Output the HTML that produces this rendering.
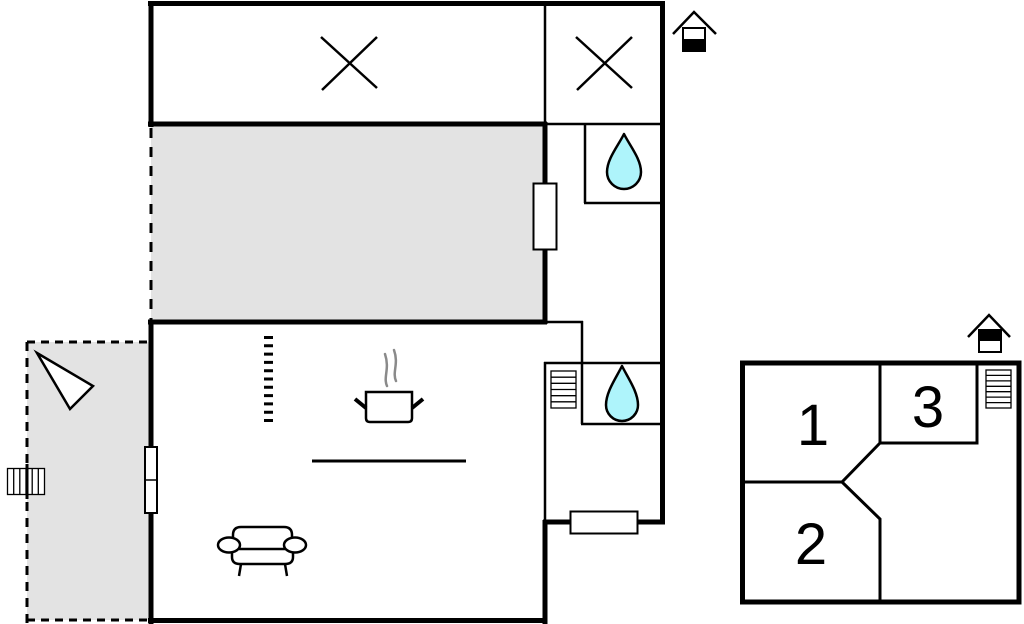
<!DOCTYPE html>
<html>
<head>
<meta charset="utf-8">
<style>
  html, body { margin:0; padding:0; background:#fff; }
  body { width:1024px; height:624px; overflow:hidden; }
  svg { display:block; }
</style>
</head>
<body>
<svg width="1024" height="624" viewBox="0 0 1024 624" xmlns="http://www.w3.org/2000/svg">
  <!-- gray fills -->
  <rect x="151" y="124" width="394" height="198" fill="#e3e3e3"/>
  <rect x="27" y="342" width="123" height="278" fill="#e3e3e3"/>

  <g stroke="#000" fill="none" stroke-linecap="butt">
    <!-- top block -->
    <line x1="148" y1="3.5" x2="665" y2="3.5" stroke-width="5"/>
    <line x1="151" y1="1" x2="151" y2="127" stroke-width="5"/>
    <line x1="148" y1="124" x2="547" y2="124" stroke-width="5"/>
    <line x1="545" y1="124" x2="662" y2="124" stroke-width="2.5"/>
    <line x1="545" y1="3" x2="545" y2="124" stroke-width="2.5"/>
    <line x1="662.5" y1="1" x2="662.5" y2="524" stroke-width="5"/>

    <!-- X marks -->
    <line x1="321" y1="37" x2="377" y2="88" stroke-width="2.5"/>
    <line x1="322" y1="90" x2="377" y2="37" stroke-width="2.5"/>
    <line x1="576" y1="37" x2="632" y2="88" stroke-width="2.5"/>
    <line x1="577" y1="90" x2="632" y2="37" stroke-width="2.5"/>

    <!-- gray room -->
    <line x1="151" y1="128" x2="151" y2="320" stroke-width="3" stroke-dasharray="10 9"/>
    <line x1="545" y1="122" x2="545" y2="324" stroke-width="5"/>

    <!-- bathroom 1 -->
    <line x1="585" y1="124" x2="585" y2="203" stroke-width="2.5"/>
    <line x1="584" y1="203" x2="662" y2="203" stroke-width="2.5"/>

    <!-- wall between gray and main -->
    <line x1="148" y1="322" x2="547" y2="322" stroke-width="5"/>
    <line x1="545" y1="322" x2="583" y2="322" stroke-width="2.5"/>
    <line x1="582" y1="321" x2="582" y2="364" stroke-width="2.5"/>

    <!-- bathroom 2 / right column -->
    <line x1="544" y1="363" x2="662" y2="363" stroke-width="2.5"/>
    <line x1="582" y1="363" x2="582" y2="424" stroke-width="2.5"/>
    <line x1="581" y1="424" x2="662" y2="424" stroke-width="2.5"/>
    <line x1="545" y1="362" x2="545" y2="522" stroke-width="2.5"/>
    <line x1="543" y1="522" x2="665" y2="522" stroke-width="5"/>
    <line x1="545" y1="520" x2="545" y2="624" stroke-width="5"/>

    <!-- main room -->
    <line x1="151" y1="320" x2="151" y2="624" stroke-width="5"/>
    <line x1="148" y1="620.5" x2="547" y2="620.5" stroke-width="5"/>

    <!-- terrace dashed -->
    <line x1="27" y1="342" x2="150" y2="342" stroke-width="3" stroke-dasharray="8 6"/>
    <line x1="27" y1="342" x2="27" y2="624" stroke-width="3" stroke-dasharray="9 7"/>
    <line x1="27" y1="620" x2="150" y2="620" stroke-width="3" stroke-dasharray="8 6"/>

    <!-- kitchen counter -->
    <line x1="312" y1="461" x2="466" y2="461" stroke-width="3"/>

    <!-- right plan -->
    <rect x="742.5" y="363" width="276.5" height="239" stroke-width="5"/>
    <polyline points="880,363 880,443 977,443 977,363" stroke-width="3"/>
    <polyline points="880,443 842,482 742,482" stroke-width="3"/>
    <polyline points="842,482 880,519 880,602" stroke-width="3"/>
  </g>

  <!-- doors / windows -->
  <g stroke="#000" fill="#fff" stroke-width="2">
    <rect x="533.5" y="183.5" width="23" height="66"/>
    <rect x="570.5" y="511.5" width="67" height="22"/>
    <rect x="145" y="447" width="12" height="66"/>
  </g>
  <line x1="145" y1="480" x2="157" y2="480" stroke="#000" stroke-width="1.5"/>

  <!-- drops -->
  <g stroke="#000" stroke-width="2.5" fill="#aef4fb" stroke-linejoin="round">
    <path d="M624 134 C630 146 641 159 641 172 A17 17 0 0 1 607 172 C607 159 618 146 624 134 Z"/>
    <path d="M622 366 C628 378 638 392 638 405 A16 16 0 0 1 606 405 C606 392 616 378 622 366 Z"/>
  </g>

  <!-- stairs in right column -->
  <g stroke="#000" stroke-width="1.3" fill="#fff">
    <rect x="551" y="371" width="25" height="37"/>
    <line x1="551" y1="377.2" x2="576" y2="377.2"/>
    <line x1="551" y1="383.3" x2="576" y2="383.3"/>
    <line x1="551" y1="389.5" x2="576" y2="389.5"/>
    <line x1="551" y1="395.7" x2="576" y2="395.7"/>
    <line x1="551" y1="401.8" x2="576" y2="401.8"/>
  </g>
  <!-- stairs in right plan -->
  <g stroke="#000" stroke-width="1.3" fill="#fff">
    <rect x="986" y="370" width="25" height="38"/>
    <line x1="986" y1="375.4" x2="1011" y2="375.4"/>
    <line x1="986" y1="380.9" x2="1011" y2="380.9"/>
    <line x1="986" y1="386.3" x2="1011" y2="386.3"/>
    <line x1="986" y1="391.7" x2="1011" y2="391.7"/>
    <line x1="986" y1="397.1" x2="1011" y2="397.1"/>
    <line x1="986" y1="402.6" x2="1011" y2="402.6"/>
  </g>
  <!-- terrace stairs -->
  <g stroke="#000" stroke-width="1.3" fill="#fff">
    <rect x="7.5" y="468.5" width="37" height="26"/>
    <line x1="13.7" y1="468.5" x2="13.7" y2="494.5"/>
    <line x1="19.8" y1="468.5" x2="19.8" y2="494.5"/>
    <line x1="26" y1="468.5" x2="26" y2="494.5"/>
    <line x1="32.2" y1="468.5" x2="32.2" y2="494.5"/>
    <line x1="38.3" y1="468.5" x2="38.3" y2="494.5"/>
  </g>
  <line x1="27" y1="464" x2="27" y2="499" stroke="#000" stroke-width="3"/>

  <!-- triangle -->
  <polygon points="37,353 93,386 70,409" fill="#fff" stroke="#000" stroke-width="2.5" stroke-linejoin="miter"/>

  <!-- ladder dashes -->
  <line x1="268.5" y1="336" x2="268.5" y2="424" stroke="#000" stroke-width="9" stroke-dasharray="3 5.3"/>

  <!-- pot -->
  <path d="M366 392 L412 392 L412 418 Q412 422 408 422 L370 422 Q366 422 366 418 Z" fill="#fff" stroke="#000" stroke-width="2.5"/>
  <line x1="355" y1="399" x2="366" y2="408" stroke="#000" stroke-width="4"/>
  <line x1="412" y1="408" x2="423" y2="399" stroke="#000" stroke-width="4"/>
  <g stroke="#8a8a8a" stroke-width="2.5" fill="none" stroke-linecap="round">
    <path d="M387 386 C383 377 390 369 385 354"/>
    <path d="M396 381 C392 372 399 364 394 350"/>
  </g>

  <!-- armchair -->
  <g stroke="#000" stroke-width="2.5" fill="#fff">
    <path d="M233 549 L233 535 Q233 527 241 527 L284 527 Q292 527 292 535 L292 549"/>
    <path d="M232 550 L232 557 Q232 564 240 564 L285 564 Q293 564 293 557 L293 550"/>
    <line x1="239" y1="549" x2="286" y2="549"/>
    <ellipse cx="229" cy="545" rx="11" ry="7.5"/>
    <ellipse cx="295" cy="545" rx="11" ry="7.5"/>
    <line x1="241" y1="564" x2="239" y2="576"/>
    <line x1="285" y1="564" x2="287" y2="576"/>
  </g>

  <!-- house icon 1 -->
  <polyline points="673,34 694,12 716,34" fill="none" stroke="#000" stroke-width="2.5"/>
  <rect x="683" y="28" width="22" height="23" fill="#fff" stroke="#000" stroke-width="2"/>
  <rect x="682" y="39" width="24" height="13" fill="#000"/>

  <!-- house icon 2 -->
  <polyline points="968,337 989,315 1010,337" fill="none" stroke="#000" stroke-width="2.5"/>
  <rect x="979" y="330" width="22" height="22" fill="#fff" stroke="#000" stroke-width="2"/>
  <rect x="978" y="329" width="24" height="12" fill="#000"/>

  <!-- labels -->
  <g font-family="Liberation Sans, Arial, sans-serif" font-size="58" fill="#000" text-anchor="middle">
    <text x="813" y="445">1</text>
    <text x="928" y="427">3</text>
    <text x="811" y="564">2</text>
  </g>
</svg>
</body>
</html>
